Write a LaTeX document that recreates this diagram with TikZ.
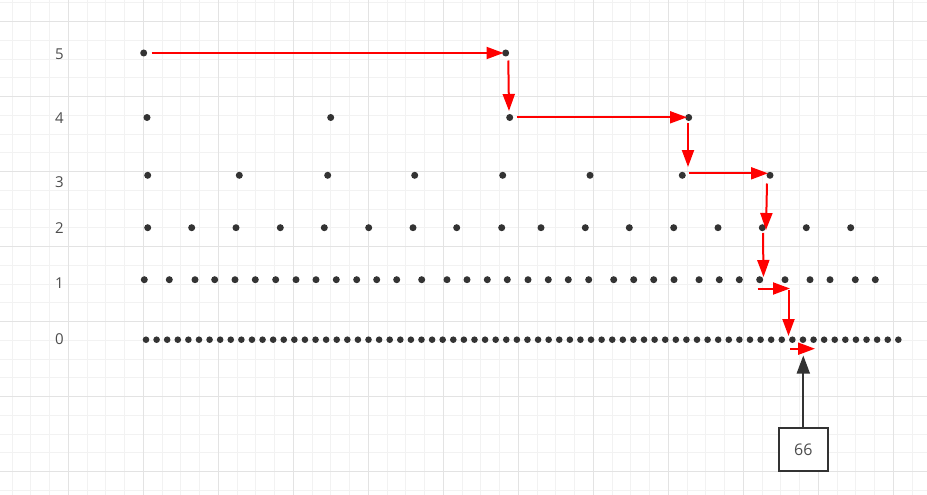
\documentclass[tikz,border=0pt]{standalone}
\usepackage{fontspec}
\setmainfont{Open Sans}
\usetikzlibrary{arrows.meta}
\definecolor{dotc}{HTML}{333333}
\definecolor{labc}{HTML}{4D4D4D}
\definecolor{gridminor}{HTML}{F2F2F2}
\definecolor{gridmajor}{HTML}{E3E3E3}
\definecolor{arrred}{HTML}{FF0000}
\begin{document}
\begin{tikzpicture}[x=1pt,y=-1pt,
  dot/.style={circle,fill=dotc,inner sep=0pt,minimum size=7pt},
  dotsmall/.style={circle,fill=dotc,inner sep=0pt,minimum size=6.6pt},
  lvl/.style={text=labc,font=\fontsize{15}{18}\selectfont,inner sep=0pt},
  redarr/.style={draw=arrred,line width=2pt,-{Triangle[length=17pt,width=12pt]}},
  blackarr/.style={draw=dotc,line width=1.7pt,-{Triangle[length=18pt,width=13pt]}},
  valbox/.style={draw=dotc,line width=1.7pt,fill=white,minimum width=48.7pt,minimum height=43.3pt,inner sep=0pt,text=labc,font=\fontsize{16}{19}\selectfont}]
\useasboundingbox (0,0) rectangle (927,495);
\fill[white] (0,0) rectangle (927,495);
% grid
\foreach \k in {0,...,48} \draw[gridminor,line width=1pt] ({12.05+\k*18.75},0) -- ({12.05+\k*18.75},495);
\foreach \k in {0,...,26} \draw[gridminor,line width=1pt] (0,{2.95+\k*18.75}) -- (927,{2.95+\k*18.75});
\foreach \k in {0,...,11} \draw[gridmajor,line width=1pt] ({68.3+\k*75},0) -- ({68.3+\k*75},495);
\foreach \k in {0,...,6} \draw[gridmajor,line width=1pt] (0,{21.7+\k*75}) -- (927,{21.7+\k*75});
% level labels
\node[lvl] (l5) at (59.3,54) {5};
\node[lvl] (l4) at (59.3,118.3) {4};
\node[lvl] (l3) at (59.3,181.7) {3};
\node[lvl] (l2) at (59.3,227.7) {2};
\node[lvl] (l1) at (59.3,283.5) {1};
\node[lvl] (l0) at (59.3,339) {0};
% dots
\foreach \x [count=\i] in {143.7,505.7}
  \node[dot] (d5-\i) at (\x,53) {};
\foreach \x [count=\i] in {147,330.7,509.7,688.7}
  \node[dot] (d4-\i) at (\x,117.5) {};
\foreach \x [count=\i] in {147.7,239.3,327.7,414.7,502.7,590,682.3,770}
  \node[dot] (d3-\i) at (\x,175.3) {};
\foreach \x [count=\i] in {147.7,191.7,236,280.3,324.3,368.7,413,456.7,501.7,541,585.3,629.3,673.7,718,762.3,806.3,850.7}
  \node[dot] (d2-\i) at (\x,227.7) {};
\foreach \x [count=\i] in {144.3,169.3,195,214.7,235,255.3,275.7,296,316,336.3,356.7,376.7,396.7,421.7,447,467,487.3,507.3,528,548.3,568.3,588.7,613.7,633.7,653.7,674,699,719.3,739.3,759.7,785,810,830,855.3,875.3}
  \node[dot] (d1-\i) at (\x,279.7) {};
\foreach \i in {0,...,71}
  \node[dotsmall] (d0-\i) at ({146+\i*10.596},339.7) {};
% arrow end points
\coordinate (a1s) at (151.7,53);   \coordinate (a1e) at (503.5,53);
\coordinate (a2s) at (508.3,60.5); \coordinate (a2e) at (509,111);
\coordinate (a3s) at (516.7,117.3);\coordinate (a3e) at (687,117.3);
\coordinate (a4s) at (688,122.5);  \coordinate (a4e) at (688,167);
\coordinate (a5s) at (688.5,173.3);\coordinate (a5e) at (768,173.3);
\coordinate (a6s) at (767,183.5);  \coordinate (a6e) at (766,230);
\coordinate (a7s) at (763,233);    \coordinate (a7e) at (763.5,277);
\coordinate (a8s) at (757.5,288.5);\coordinate (a8e) at (790,288.5);
\coordinate (a9s) at (788.5,290);  \coordinate (a9e) at (788.5,336);
\coordinate (a10s) at (790,348.7); \coordinate (a10e) at (815,348.7);
\foreach \n in {1,...,10}
  \draw[redarr] (a\n s) -- (a\n e);
% value box
\node[valbox] (box) at (803.3,449.3) {66};
\coordinate (tip) at (803.3,355.5);
\draw[blackarr] (box.north) -- (tip);
\end{tikzpicture}
\end{document}
